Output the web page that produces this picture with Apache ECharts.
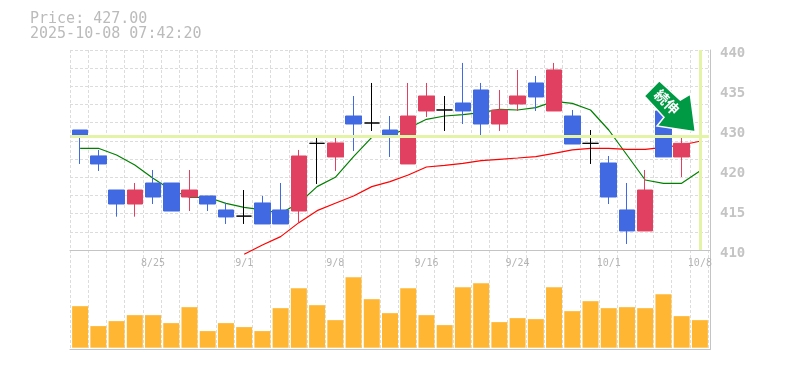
<!DOCTYPE html>
<html><head><meta charset="utf-8">
<style>html,body{margin:0;padding:0;background:#fff}#c{width:785px;height:370px}</style>
<script src="https://cdn.jsdelivr.net/npm/echarts@6/dist/echarts.min.js"></script>
</head><body><div id="c"></div>
<script>
const dates = ['8/19','8/20','8/21','8/22','8/25','8/26','8/27','8/28','8/29','9/1','9/2','9/3','9/4','9/5','9/8','9/9','9/10','9/11','9/12','9/16','9/17','9/18','9/19','9/22','9/24','9/25','9/26','9/29','9/30','10/1','10/2','10/3','10/6','10/7','10/8'];
const opens  = [427.9,424.2,419.33,417.33,420.33,420.33,418.33,418.48,416.48,415.6,417.48,416.48,416.33,426,424.05,429.9,428.9,427.9,423.05,430.62,430.76,431.76,433.62,428.76,431.62,434.62,430.62,429.9,426,423.19,416.48,413.48,430.62,424.05,427];
const closes = [426.9,423.05,417.33,419.33,418.33,416.33,419.33,417.33,415.48,415.6,414.48,414.48,424.19,426,426.05,428.76,428.9,426.9,429.9,432.76,430.76,430.62,428.76,430.76,432.76,432.62,436.48,425.9,426,418.33,413.48,419.33,424.05,426,427];
const lows   = [423.05,422.05,415.52,415.52,417.33,416.33,416.33,416.33,414.48,414.48,414.48,414.48,414.62,420.19,422.05,424.9,427.76,424.05,423.05,429.76,427.76,428.76,426.9,427.76,430.62,430.62,430.62,425.9,423.05,417.33,411.62,413.48,424.05,421.19,426];
const highs  = [427.9,425.05,419.33,420.33,422.19,420.33,422.19,418.48,417.48,419.33,418.48,420.33,425.05,427.05,427.05,432.76,434.62,429.9,434.62,434.62,432.76,437.48,434.62,433.62,436.48,435.62,437.48,430.76,427.9,424.19,420.33,422.19,430.62,427.05,432.76];
const maShort = [425.29,425.29,424.33,422.9,421,419.33,418.29,418.29,417.43,416.86,416.48,416,417.43,419.81,421.14,424.1,426.86,427.19,428.14,429.43,429.9,430.1,430.38,430.86,430.76,431.1,432,431.71,430.76,427.9,424.33,420.76,420.29,420.29,422.05];
const maLong = [null,null,null,null,null,null,null,null,null,410.14,411.48,412.67,414.67,416.38,417.43,418.48,419.81,420.52,421.48,422.62,422.86,423.14,423.52,423.71,423.9,424.1,424.57,425.05,425.29,425.29,425.14,425.14,425.43,425.76,426.29];
const volumes = [125,65,80,98,98,74,122,50,74,62,50,119,179,128,83,212,146,104,179,98,68,182,194,77,89,86,182,110,140,119,122,119,161,95,83];
const priceLabels = ['410','415','420','430','435','440'];
const currentPrice = 427;
const titleText = 'Price: 427.00\n2025-10-08 07:42:20';
const signalText = '続伸';

const GREY='#c4c4c4', DASH='#dcdcdc';
const dashed={color:DASH,type:[3,2],width:1};
const off={show:false};
const chart=echarts.init(document.getElementById('c'),null,{renderer:'canvas'});
chart.setOption({
 animation:false,backgroundColor:'#fff',
 title:{text:titleText,left:30,top:11,padding:0,textStyle:{fontFamily:'DejaVu Sans Mono',fontSize:15,fontWeight:'normal',color:'#bbbbbb',lineHeight:15.5}},
 grid:[
  {left:71,width:638,top:50,height:200},      // price marks
  {left:71,width:638,top:250,height:99.5},    // volume marks
  {left:70,width:640,top:53,height:200},      // price tick labels
  {left:70,width:638.2,top:50,height:299.5},  // vertical dotted lines
  {left:70,width:640,top:50,height:200},      // upper frame, horizontal dotted lines
  {left:70,width:640,top:250,height:99.5}     // lower frame
 ],
 xAxis:[
  {type:'category',gridIndex:0,data:dates,axisTick:off,axisLine:off,splitLine:off,
   axisLabel:{interval:(i)=>i%5===4,margin:8,fontFamily:'DejaVu Sans Mono',fontSize:10,color:'#b4b4b4',hideOverlap:false}},
  {type:'category',gridIndex:1,data:dates,show:false},
  {type:'category',gridIndex:2,data:dates,show:false},
  {type:'category',gridIndex:3,data:dates,axisTick:off,axisLabel:off,axisLine:off,splitLine:{show:true,interval:0,lineStyle:dashed}},
  {type:'category',gridIndex:4,data:dates,axisTick:off,axisLabel:off,axisLine:{onZero:false,lineStyle:{color:GREY}},splitLine:off},
  {type:'category',gridIndex:5,data:dates,axisTick:off,axisLabel:off,axisLine:{onZero:false,lineStyle:{color:GREY}},splitLine:off}
 ],
 yAxis:[
  {type:'value',gridIndex:0,min:410.76,max:439.33,show:false,scale:true},
  {type:'value',gridIndex:1,min:-5.4,max:294,show:false},
  {type:'category',gridIndex:2,data:priceLabels,boundaryGap:false,position:'right',axisLine:off,axisTick:off,splitLine:off,
   axisLabel:{interval:0,margin:10,fontFamily:'DejaVu Sans Mono',fontSize:14,fontWeight:'bold',color:'#c4c4c4'}},
  {type:'value',gridIndex:3,min:0,max:1,show:false},
  {type:'value',gridIndex:4,min:0,max:11,interval:1,position:'right',axisLabel:off,axisTick:off,axisLine:{show:true,onZero:false,lineStyle:{color:GREY}},splitLine:{show:true,lineStyle:dashed}},
  {type:'value',gridIndex:5,min:0,max:1,position:'right',axisLabel:off,axisTick:off,axisLine:{show:true,onZero:false,lineStyle:{color:GREY}},splitLine:off}
 ],
 series:[
  {type:'line',name:'current',xAxisIndex:0,yAxisIndex:0,data:[],z:1,silent:true,
   markLine:{silent:true,symbol:'none',animation:false,label:off,lineStyle:{color:'#e4f4a6',width:3,type:'solid'},
    data:[{yAxis:currentPrice},{xAxis:dates[dates.length-1]}]}},
  {type:'line',name:'short',xAxisIndex:0,yAxisIndex:0,data:maShort,symbol:'none',z:2,clip:false,lineStyle:{color:'#008000',width:1.2}},
  {type:'line',name:'long',xAxisIndex:0,yAxisIndex:0,data:maLong,symbol:'none',z:2,clip:false,lineStyle:{color:'#ff0000',width:1.2}},
  {type:'candlestick',xAxisIndex:0,yAxisIndex:0,z:3,barWidth:16,clip:false,
   data:dates.map((_,i)=>[opens[i],closes[i],lows[i],highs[i]]),
   itemStyle:{color:'#e24060',color0:'#4169e1',borderColor:'#e24060',borderColor0:'#4169e1',borderColorDoji:'#000',borderWidth:1}},
  {type:'bar',xAxisIndex:1,yAxisIndex:1,data:volumes,barWidth:16,z:3,itemStyle:{color:'#ffb733'}}
 ],
 graphic:[
  {type:'polygon',z:50,shape:{points:[[659.3,80.7],[644.3,96],[664,117.3],[657,126],[695.3,131.7],[690.3,94],[680.3,100]]},
   style:{fill:'#009944',stroke:'#fff',lineWidth:1.5}},
  {type:'text',z:51,x:667,y:102,rotation:-Math.PI/4,style:{text:signalText,fontFamily:'Noto Sans CJK JP',fontSize:14,fontWeight:'bold',fill:'#fff',align:'center',verticalAlign:'middle'}}
 ]
});
</script></body></html>
